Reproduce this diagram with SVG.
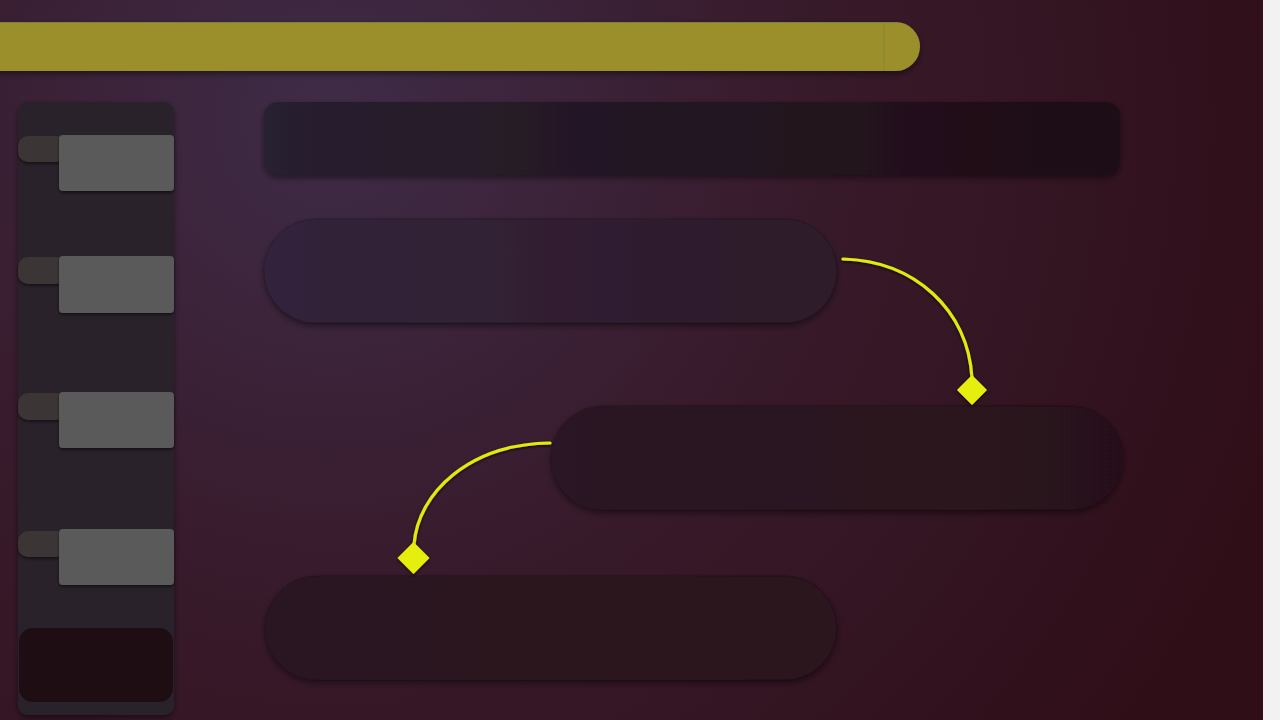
<svg xmlns="http://www.w3.org/2000/svg" width="1280" height="720" viewBox="0 0 1280 720">
  <defs>
    <radialGradient id="bg" cx="330" cy="120" r="1000" gradientUnits="userSpaceOnUse">
      <stop offset="0" stop-color="#3f2c48"/>
      <stop offset="0.45" stop-color="#381b2c"/>
      <stop offset="1" stop-color="#2f0e18"/>
    </radialGradient>
    <linearGradient id="hdr" x1="0" y1="0" x2="1" y2="0">
      <stop offset="0" stop-color="#282030"/>
      <stop offset="1" stop-color="#1e0c14"/>
    </linearGradient>
    <linearGradient id="p1" x1="0" y1="0" x2="1" y2="0">
      <stop offset="0" stop-color="#33243b"/>
      <stop offset="1" stop-color="#2d1a29"/>
    </linearGradient>
    <linearGradient id="p2" x1="0" y1="0" x2="1" y2="0">
      <stop offset="0" stop-color="#2c1825"/>
      <stop offset="1" stop-color="#28111a"/>
    </linearGradient>
    <linearGradient id="p3" x1="0" y1="0" x2="1" y2="0">
      <stop offset="0" stop-color="#2b1621"/>
      <stop offset="1" stop-color="#2a121c"/>
    </linearGradient>
    <filter id="sh" x="-10%" y="-30%" width="120%" height="170%">
      <feDropShadow dx="0" dy="3" stdDeviation="3" flood-color="#000" flood-opacity="0.45"/>
    </filter>
    <filter id="shs" x="-10%" y="-30%" width="120%" height="170%">
      <feDropShadow dx="0" dy="2" stdDeviation="1.5" flood-color="#000" flood-opacity="0.5"/>
    </filter>
    <filter id="glow" x="-20%" y="-20%" width="140%" height="140%">
      <feDropShadow dx="0" dy="1" stdDeviation="1.8" flood-color="#000" flood-opacity="0.9"/>
    </filter>
    <style>
      .pill { stroke: #1c0c18; stroke-opacity: 0.3; stroke-width: 1; filter: url(#sh); }
      .tab { fill: #3a3535; filter: url(#shs); }
      .box { fill: #5a5a5a; filter: url(#shs); }
      .conn { fill: none; stroke: #e2ea0e; stroke-width: 3.2; stroke-linecap: round; filter: url(#glow); }
      .dia { fill: #e6ee0e; filter: url(#glow); }
    </style>
  </defs>

  <rect x="0" y="0" width="1280" height="720" fill="#f2f2f2"/>
  <rect x="0" y="0" width="1263" height="720" fill="url(#bg)"/>

  <g id="topbar" filter="url(#sh)">
    <rect x="-40" y="22" width="960" height="49" rx="24.5" fill="#9a8f2a"/>
    <line x1="884" y1="22" x2="884" y2="71" stroke="#8b8a30" stroke-width="1.5"/>
    <line x1="0" y1="22.5" x2="898" y2="22.5" stroke="#7d8040" stroke-width="1"/>
  </g>

  <g id="sidebar">
    <rect x="18" y="102" width="156" height="613" rx="10" fill="#2b2329" filter="url(#sh)"/>
    <g id="item1">
      <rect class="tab" x="18" y="136" width="48" height="26" rx="10"/>
      <rect class="box" x="59" y="135" width="115" height="56" rx="4"/>
    </g>
    <g id="item2">
      <rect class="tab" x="18" y="257" width="48" height="27" rx="10"/>
      <rect class="box" x="59" y="256" width="115" height="57" rx="4"/>
    </g>
    <g id="item3">
      <rect class="tab" x="18" y="393" width="48" height="27" rx="10"/>
      <rect class="box" x="59" y="392" width="115" height="56" rx="4"/>
    </g>
    <g id="item4">
      <rect class="tab" x="18" y="531" width="48" height="26" rx="10"/>
      <rect class="box" x="59" y="529" width="115" height="56" rx="4"/>
    </g>
    <g id="sidebar-footer">
      <rect x="19" y="628" width="154" height="74" rx="14" fill="#1e0d12"/>
    </g>
  </g>

  <g id="header">
    <rect x="264" y="102" width="856" height="73" rx="14" fill="url(#hdr)" filter="url(#sh)"/>
  </g>

  <g id="node1">
    <rect class="pill" x="264" y="219" width="573" height="104" rx="52" fill="url(#p1)"/>
  </g>
  <g id="node2">
    <rect class="pill" x="551" y="406" width="572" height="104" rx="52" fill="url(#p2)"/>
  </g>
  <g id="node3">
    <rect class="pill" x="265" y="576" width="572" height="104" rx="52" fill="url(#p3)"/>
  </g>

  <g id="connectors">
    <path class="conn" d="M843,259 C915,261 968,310 972,378"/>
    <path class="dia" d="M972,375 L987,390 L972,405 L957,390 Z"/>
    <path class="conn" d="M550,443 C470,444 418,492 414,545"/>
    <path class="dia" d="M413.5,542 L429.5,558 L413.5,574 L397.5,558 Z"/>
  </g>
</svg>
